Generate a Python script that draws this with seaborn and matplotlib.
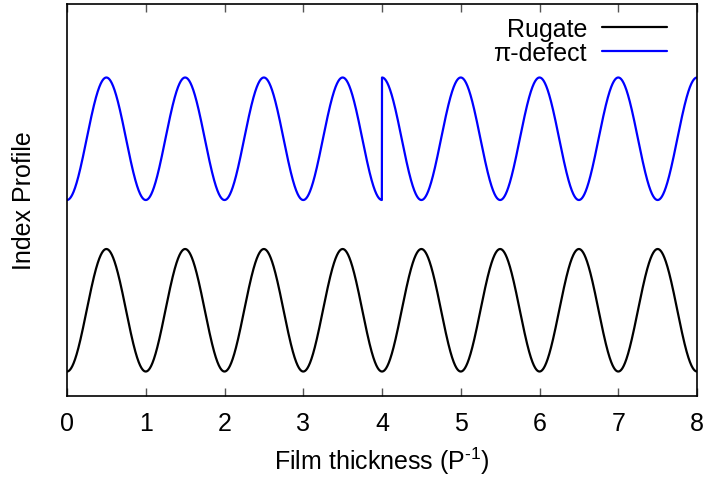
import numpy as np
import pandas as pd
import matplotlib
matplotlib.use("Agg")
import matplotlib.pyplot as plt
import seaborn as sns

# Profile parameters (thickness in units of the period P^-1)
x_range = [0.0, 8.0]
period = 1.0
defect_position = 4.0          # location of the pi phase jump
rugate_offset = 0.0
defect_offset = 1.4            # vertical shift of the defect curve
amplitude = 0.5
series_names = ["Rugate", "\u03c0-defect"]
series_colors = ["#000000", "#0000ff"]
x_ticks = [0, 1, 2, 3, 4, 5, 6, 7, 8]

x = np.linspace(x_range[0], x_range[1], 4001)
phase = 2 * np.pi * x / period
rugate = rugate_offset + amplitude - amplitude * np.cos(phase)
shift = np.where(x < defect_position, 0.0, np.pi)
defect = defect_offset + amplitude - amplitude * np.cos(phase + shift)

df = pd.DataFrame({
    "x": np.concatenate([x, x]),
    "y": np.concatenate([rugate, defect]),
    "series": [series_names[0]] * len(x) + [series_names[1]] * len(x),
})

sns.set_style("white")
plt.rcParams["font.family"] = ["Liberation Sans", "DejaVu Sans"]
plt.rcParams["text.color"] = "black"
plt.rcParams["axes.labelcolor"] = "black"
plt.rcParams["xtick.labelcolor"] = "black"
FS = 18

fig = plt.figure(figsize=(7.03, 4.81), dpi=100)
ax = fig.add_axes([0.0953, 0.1746, 0.8962, 0.815])

sns.lineplot(data=df, x="x", y="y", hue="series", palette=series_colors,
             estimator=None, sort=False, linewidth=1.6, ax=ax)

ax.set_xlim(*x_range)
ax.set_ylim(-0.2, 3.0)
ax.set_xticks(x_ticks)
ax.set_xticklabels([str(t) for t in x_ticks])
ax.set_yticks([])
ax.tick_params(axis="x", direction="in", top=True, bottom=True, length=6,
               width=1, labelsize=FS, pad=11, color="#555555",
               labelcolor="black")
for s in ax.spines.values():
    s.set_color("black")
    s.set_linewidth(1.2)

ax.set_xlabel("Film thickness (P$^{\\mathregular{\u2010}\\mathregular{1}}$)",
              fontsize=FS, labelpad=7)
ax.set_ylabel("Index Profile", fontsize=FS, labelpad=22)

leg = ax.legend(loc="upper right", frameon=False, fontsize=FS, markerfirst=False,
                handlelength=2.6, handletextpad=0.6, borderaxespad=0.1,
                labelspacing=0.02, bbox_to_anchor=(0.972, 1.0))
for t in leg.get_texts():
    t.set_ha("right")
    t.set_color("black")
leg._legend_box.align = "right"

fig.savefig("out.png", dpi=100)
